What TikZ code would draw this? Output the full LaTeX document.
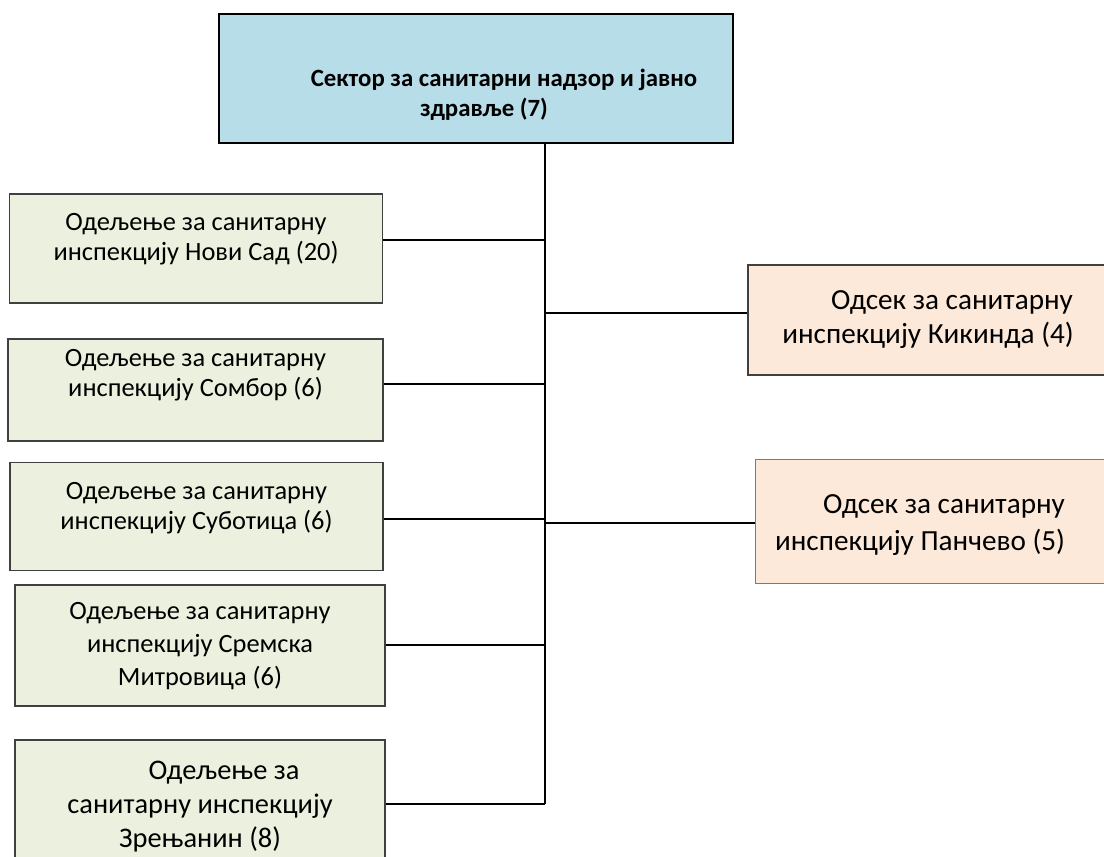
\documentclass[tikz,border=0pt]{standalone}
\usepackage{fontspec}
\setmainfont{Carlito}
\definecolor{headblue}{HTML}{B7DDE8}
\definecolor{deptgreen}{HTML}{EBF1DE}
\definecolor{secpeach}{HTML}{FDE9D9}
\definecolor{secline}{HTML}{5B7FB0}
\definecolor{boxline}{HTML}{404040}

\tikzset{
  box/.style={align=center, inner sep=0pt, text height=0pt, text depth=0pt},
  head/.style={box, draw=black, line width=0.75pt, fill=headblue, minimum width=257pt, minimum height=64.5pt, font=\bfseries\fontsize{12.4}{15}\selectfont},
  dept/.style={box, draw=boxline, line width=0.75pt, fill=deptgreen, minimum width=186.5pt, font=\fontsize{13.2}{15}\selectfont},
  odsek/.style={box, fill=secpeach, font=\fontsize{14.6}{17}\selectfont},
  link/.style={line width=1pt}
}

\begin{document}
\begin{tikzpicture}[x=0.5pt, y=-0.5pt]
        \useasboundingbox (0,0) rectangle (1104,857);

        % sector
        \node[head, text height=37.5pt] (sektor) at (476,78.5)
            {\hspace*{28pt}Сектор за санитарни надзор и јавно\\\hspace*{8pt}здравље (7)};

        % departments
        \node[dept, minimum height=54.5pt, text height=12pt] (nsad) at (196,248.5) {Одељење за санитарну\\инспекцију Нови Сад (20)};
        \node[dept, minimum height=51pt, minimum width=187.5pt, text height=6.5pt] (sombor) at (195.5,390) {Одељење за санитарну\\инспекцију Сомбор (6)};
        \node[dept, minimum height=54pt, text height=13pt] (subotica) at (196.5,516.5) {Одељење за санитарну\\инспекцију Суботица (6)};
        \node[dept, minimum height=60.5pt, minimum width=185pt, text height=40pt, font=\fontsize{13.2}{16.5}\selectfont] (sremska) at (200,645.5) {Одељење за санитарну\\инспекцију Сремска\\Митровица (6)};
        \node[dept, minimum height=70pt, minimum width=185pt, text height=37pt, font=\fontsize{14.2}{16.8}\selectfont] (zrenjanin) at (200,810) {\hspace*{24pt}Одељење за\\санитарну инспекцију\\Зрењанин (8)};

        % sections
        \node[odsek, draw=boxline, line width=0.75pt, minimum width=192pt, minimum height=55pt, text height=23pt] (kikinda) at (940,320)
            {\hspace*{12pt}Одсек за санитарну\\инспекцију Кикинда (4)\hspace*{12pt}};
        \node[odsek, draw=secline, line width=0.5pt, minimum width=177pt, minimum height=62pt, text height=29pt, font=\fontsize{14.6}{18.5}\selectfont] (pancevo) at (932,521)
            {\hspace*{12pt}Одсек за санитарну\\инспекцију Панчево (5)\hspace*{12pt}};

        % trunk and junctions
        \coordinate (dno) at (545,804);
        \coordinate (j1) at (545,240);
        \coordinate (j2) at (545,384);
        \coordinate (j3) at (545,519);
        \coordinate (j4) at (545,645);
        \coordinate (jk) at (545,313);
        \coordinate (jp) at (545,523);
        \draw[link] (sektor.south -| dno) -- (dno);

        \draw[link] (nsad.east |- j1) -- (j1);
        \draw[link] (sombor.east |- j2) -- (j2);
        \draw[link] (subotica.east |- j3) -- (j3);
        \draw[link] (sremska.east |- j4) -- (j4);
        \draw[link] (zrenjanin.east |- dno) -- (dno);
        \draw[link] (kikinda.west |- jk) -- (jk);
        \draw[link] (pancevo.west |- jp) -- (jp);
    \end{tikzpicture}
\end{document}
